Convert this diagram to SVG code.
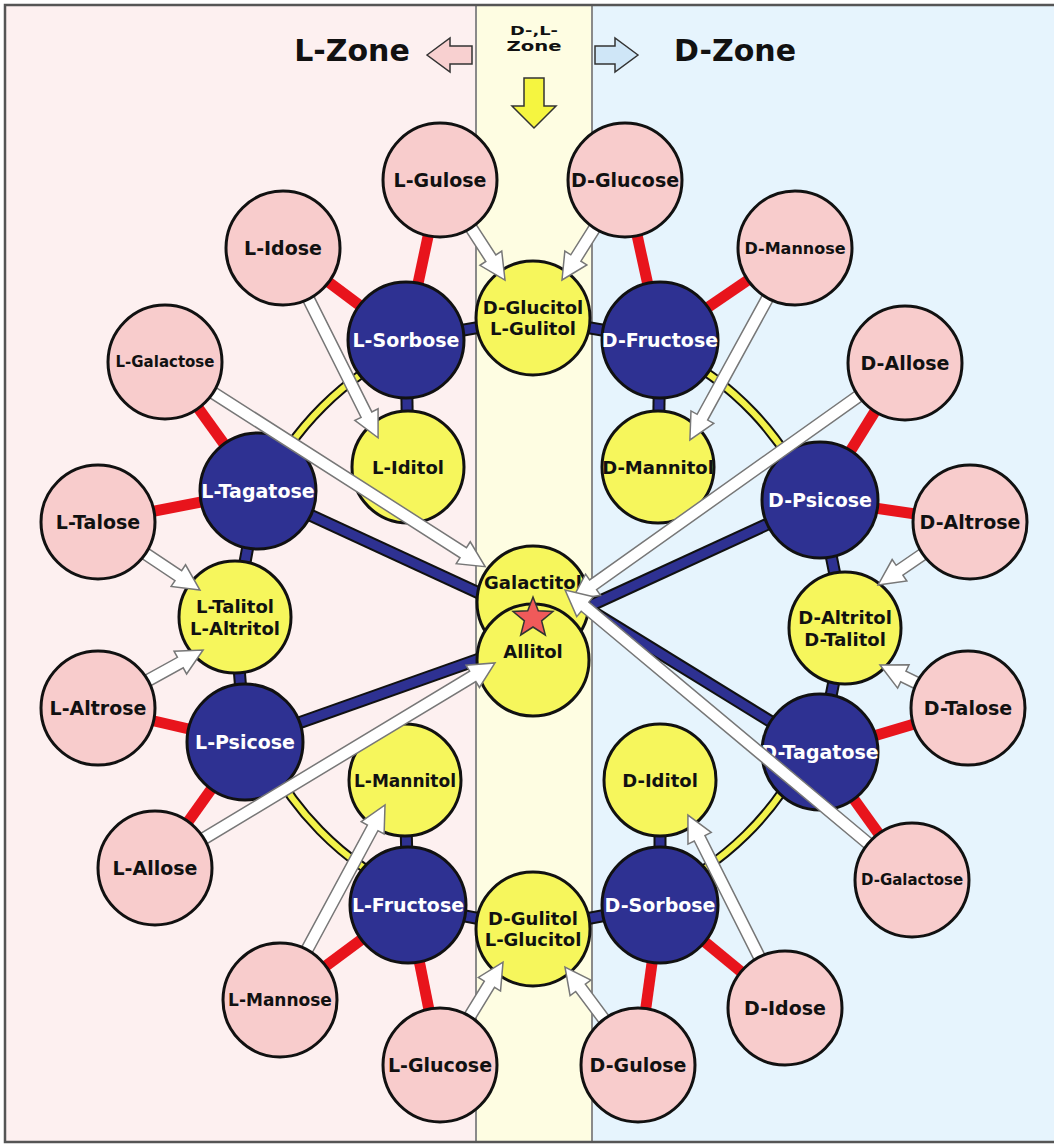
<svg xmlns="http://www.w3.org/2000/svg" width="1054" height="1144" viewBox="0 0 1054 1144">
<style>
.ald{fill:#f8cccc;stroke:#111;stroke-width:3}
.ket{fill:#2e3192;stroke:#111;stroke-width:3}
.alc{fill:#f6f65c;stroke:#111;stroke-width:3}
.t{font-family:"DejaVu Sans",Verdana,sans-serif;font-weight:bold;text-anchor:middle;font-size:18px;fill:#111}
.tw{fill:#fff;font-size:19px}
.tp{font-size:19px}
.red{stroke:#e8141c;stroke-width:11;fill:none}
.bo{stroke:#111;stroke-width:13;fill:none}
.bl{stroke:#2e3192;stroke-width:9;fill:none}
.ro{stroke:#111;stroke-width:10;fill:none}
.ry{stroke:#f2f24a;stroke-width:6;fill:none}
.arr{fill:#fff;stroke:#777;stroke-width:1.5;stroke-linejoin:miter}
.za{stroke:#333;stroke-width:1.5}
</style>
<g id="background">
<rect x="5" y="5" width="471" height="1137" fill="#fdf0f0"/>
<rect x="476" y="5" width="116" height="1137" fill="#fefde2"/>
<rect x="592" y="5" width="470" height="1137" fill="#e6f4fd"/>
<line x1="476" y1="5" x2="476" y2="1142" stroke="#8a8a8a" stroke-width="2"/>
<line x1="592" y1="5" x2="592" y2="1142" stroke="#8a8a8a" stroke-width="2"/>
<rect x="5" y="5" width="1060" height="1137" fill="none" stroke="#555" stroke-width="2.5"/>
</g>
<g id="zone-labels">
<text class="t" x="352" y="61" style="font-size:30px">L-Zone</text>
<text class="t" x="735" y="61" style="font-size:30px">D-Zone</text>
<text class="t" x="534" y="35" style="font-size:13px" textLength="48" lengthAdjust="spacingAndGlyphs">D-,L-</text>
<text class="t" x="534" y="51" style="font-size:14px" textLength="55" lengthAdjust="spacingAndGlyphs">Zone</text>
<polygon class="za" fill="#f8d0d0" points="427,55 450,38 450,46 472,46 472,64 450,64 450,72"/>
<polygon class="za" fill="#cfe6f7" points="638,55 615,38 615,46 595,46 595,64 615,64 615,72"/>
<polygon class="za" fill="#f5f540" points="524,78 544,78 544,106 556,106 534,128 512,106 524,106"/>
</g>
<g id="connectors">
<g id="ring">
<path class="ro" d="M262.2,492.8 A301,301 0 0 1 409.2,346.5"/>
<path class="ry" d="M262.2,492.8 A301,301 0 0 1 409.2,346.5"/>
<path class="ro" d="M666.5,349.2 A301,301 0 0 1 812.5,503.4"/>
<path class="ry" d="M666.5,349.2 A301,301 0 0 1 812.5,503.4"/>
<path class="ro" d="M412.6,895 A301,301 0 0 1 257.5,736.6"/>
<path class="ry" d="M412.6,895 A301,301 0 0 1 257.5,736.6"/>
<path class="ro" d="M808.1,746.5 A301,301 0 0 1 656,895.6"/>
<path class="ry" d="M808.1,746.5 A301,301 0 0 1 656,895.6"/>
</g>
<g id="red-links" class="red">
<line x1="406" y1="340" x2="440" y2="180"/>
<line x1="406" y1="340" x2="283" y2="248"/>
<line x1="660" y1="340" x2="625" y2="180"/>
<line x1="660" y1="340" x2="795" y2="248"/>
<line x1="258" y1="491" x2="165" y2="362"/>
<line x1="258" y1="491" x2="98" y2="522"/>
<line x1="820" y1="500" x2="905" y2="363"/>
<line x1="820" y1="500" x2="970" y2="522"/>
<line x1="245" y1="742" x2="98" y2="708"/>
<line x1="245" y1="742" x2="155" y2="868"/>
<line x1="820" y1="752" x2="968" y2="708"/>
<line x1="820" y1="752" x2="912" y2="880"/>
<line x1="408" y1="905" x2="280" y2="1000"/>
<line x1="408" y1="905" x2="440" y2="1065"/>
<line x1="660" y1="905" x2="785" y2="1008"/>
<line x1="660" y1="905" x2="638" y2="1065"/>
</g>
<g id="blue-links-outline" class="bo">
<path d="M406,340 L533,318 L660,340"/>
<path d="M406,340 L408,467"/>
<path d="M660,340 L658,467"/>
<path d="M258,491 L235,617 L245,742"/>
<path d="M820,500 L845,625 L820,752"/>
<path d="M405,780 L408,905 L533,929 L660,905 L660,780"/>
<path d="M258,491 L533,618"/>
<path d="M245,742 L533,640"/>
<path d="M820,500 L533,632"/>
<path d="M820,752 L533,575"/>
</g>
<g id="blue-links" class="bl">
<path d="M406,340 L533,318 L660,340"/>
<path d="M406,340 L408,467"/>
<path d="M660,340 L658,467"/>
<path d="M258,491 L235,617 L245,742"/>
<path d="M820,500 L845,625 L820,752"/>
<path d="M405,780 L408,905 L533,929 L660,905 L660,780"/>
<path d="M258,491 L533,618"/>
<path d="M245,742 L533,640"/>
<path d="M820,500 L533,632"/>
<path d="M820,752 L533,575"/>
</g>
</g>
<g id="ketoses">
<g id="L-Sorbose"><circle class="ket" cx="406" cy="340" r="58"/><text class="t tw" x="406" y="347">L-Sorbose</text></g>
<g id="D-Fructose"><circle class="ket" cx="660" cy="340" r="58"/><text class="t tw" x="660" y="347">D-Fructose</text></g>
<g id="L-Tagatose"><circle class="ket" cx="258" cy="491" r="58"/><text class="t tw" x="258" y="498">L-Tagatose</text></g>
<g id="D-Psicose"><circle class="ket" cx="820" cy="500" r="58"/><text class="t tw" x="820" y="507">D-Psicose</text></g>
<g id="L-Psicose"><circle class="ket" cx="245" cy="742" r="58"/><text class="t tw" x="245" y="749">L-Psicose</text></g>
<g id="D-Tagatose"><circle class="ket" cx="820" cy="752" r="58"/><text class="t tw" x="820" y="759">D-Tagatose</text></g>
<g id="L-Fructose"><circle class="ket" cx="408" cy="905" r="58"/><text class="t tw" x="408" y="912">L-Fructose</text></g>
<g id="D-Sorbose"><circle class="ket" cx="660" cy="905" r="58"/><text class="t tw" x="660" y="912">D-Sorbose</text></g>
</g>
<g id="alditols">
<g id="D-Glucitol"><circle class="alc" cx="533" cy="318" r="57"/><text class="t" x="533" y="314">D-Glucitol</text><text class="t" x="533" y="335">L-Gulitol</text></g>
<g id="L-Iditol"><circle class="alc" cx="408" cy="467" r="56"/><text class="t" x="408" y="474">L-Iditol</text></g>
<g id="D-Mannitol"><circle class="alc" cx="658" cy="467" r="56"/><text class="t" x="658" y="474">D-Mannitol</text></g>
<g id="L-Talitol"><circle class="alc" cx="235" cy="617" r="56"/><text class="t" x="235" y="613">L-Talitol</text><text class="t" x="235" y="635">L-Altritol</text></g>
<g id="D-Altritol"><circle class="alc" cx="845" cy="628" r="56"/><text class="t" x="845" y="624">D-Altritol</text><text class="t" x="845" y="646">D-Talitol</text></g>
<g id="Galactitol"><circle class="alc" cx="533" cy="602" r="56"/><text class="t" x="533" y="589">Galactitol</text></g>
<g id="Allitol"><circle class="alc" cx="533" cy="660" r="56"/><text class="t" x="533" y="658">Allitol</text></g>
<g id="L-Mannitol"><circle class="alc" cx="405" cy="780" r="56"/><text class="t" x="405" y="787" style="font-size:17px">L-Mannitol</text></g>
<g id="D-Iditol"><circle class="alc" cx="660" cy="780" r="56"/><text class="t" x="660" y="787">D-Iditol</text></g>
<g id="D-Gulitol"><circle class="alc" cx="533" cy="929" r="57"/><text class="t" x="533" y="925">D-Gulitol</text><text class="t" x="533" y="946">L-Glucitol</text></g>
<polygon id="star" fill="#f05a5a" stroke="#333" stroke-width="1.5" points="533,597 538.3,610.7 553,611.5 541.6,620.8 545.3,635 533,627 520.7,635 524.4,620.8 513,611.5 527.7,610.7"/>
</g>
<g id="reduction-arrows" class="arr">
<path transform="translate(462.9,215.2) rotate(57)" d="M0,-6 H51.3 V-13 L77.3,0 L51.3,13 V6 H0 Z"/>
<path transform="translate(602.6,215.5) rotate(122.2)" d="M0,-6 H50.2 V-13 L76.2,0 L50.2,13 V6 H0 Z"/>
<path transform="translate(301.8,285.5) rotate(63.4)" d="M0,-6 H144.4 V-13 L170.4,0 L144.4,13 V6 H0 Z"/>
<path transform="translate(774.8,284.9) rotate(118.7)" d="M0,-6 H150.8 V-13 L176.8,0 L150.8,13 V6 H0 Z"/>
<path transform="translate(200.4,384.6) rotate(32.6)" d="M0,-6 H312 V-13 L338,0 L312,13 V6 H0 Z"/>
<path transform="translate(870.8,387.4) rotate(144.6)" d="M0,-6 H340.7 V-13 L366.7,0 L340.7,13 V6 H0 Z"/>
<path transform="translate(132.9,545.3) rotate(33.7)" d="M0,-6 H54.6 V-13 L80.6,0 L54.6,13 V6 H0 Z"/>
<path transform="translate(935.4,545.7) rotate(145.6)" d="M0,-6 H43.5 V-13 L69.5,0 L43.5,13 V6 H0 Z"/>
<path transform="translate(134.8,687.7) rotate(-28.9)" d="M0,-6 H52 V-13 L78,0 L52,13 V6 H0 Z"/>
<path transform="translate(930.2,689.6) rotate(-153.95)" d="M0,-6 H29.9 V-13 L55.9,0 L29.9,13 V6 H0 Z"/>
<path transform="translate(191,846.3) rotate(-31.1)" d="M0,-6 H329 V-13 L355,0 L329,13 V6 H0 Z"/>
<path transform="translate(879.8,853.1) rotate(-140.1)" d="M0,-6 H384.2 V-13 L410.2,0 L384.2,13 V6 H0 Z"/>
<path transform="translate(299.9,963) rotate(-61.7)" d="M0,-6 H153.5 V-13 L179.5,0 L153.5,13 V6 H0 Z"/>
<path transform="translate(766.1,970.5) rotate(-116.7)" d="M0,-6 H148 V-13 L174,0 L148,13 V6 H0 Z"/>
<path transform="translate(461.9,1029.2) rotate(-58.5)" d="M0,-6 H52.7 V-13 L78.7,0 L52.7,13 V6 H0 Z"/>
<path transform="translate(612.9,1031.3) rotate(-126.7)" d="M0,-6 H54.2 V-13 L80.2,0 L54.2,13 V6 H0 Z"/>
</g>
<g id="aldoses">
<g id="L-Gulose"><circle class="ald" cx="440" cy="180" r="57"/><text class="t tp" x="440" y="187">L-Gulose</text></g>
<g id="D-Glucose"><circle class="ald" cx="625" cy="180" r="57"/><text class="t tp" x="625" y="187">D-Glucose</text></g>
<g id="L-Idose"><circle class="ald" cx="283" cy="248" r="57"/><text class="t tp" x="283" y="255">L-Idose</text></g>
<g id="D-Mannose"><circle class="ald" cx="795" cy="248" r="57"/><text class="t" x="795" y="254" style="font-size:16px">D-Mannose</text></g>
<g id="L-Galactose"><circle class="ald" cx="165" cy="362" r="57"/><text class="t" x="165" y="367" style="font-size:15px">L-Galactose</text></g>
<g id="D-Allose"><circle class="ald" cx="905" cy="363" r="57"/><text class="t tp" x="905" y="370">D-Allose</text></g>
<g id="L-Talose"><circle class="ald" cx="98" cy="522" r="57"/><text class="t tp" x="98" y="529">L-Talose</text></g>
<g id="D-Altrose"><circle class="ald" cx="970" cy="522" r="57"/><text class="t tp" x="970" y="529">D-Altrose</text></g>
<g id="L-Altrose"><circle class="ald" cx="98" cy="708" r="57"/><text class="t tp" x="98" y="715">L-Altrose</text></g>
<g id="D-Talose"><circle class="ald" cx="968" cy="708" r="57"/><text class="t tp" x="968" y="715">D-Talose</text></g>
<g id="L-Allose"><circle class="ald" cx="155" cy="868" r="57"/><text class="t tp" x="155" y="875">L-Allose</text></g>
<g id="D-Galactose"><circle class="ald" cx="912" cy="880" r="57"/><text class="t" x="912" y="885" style="font-size:15px">D-Galactose</text></g>
<g id="L-Mannose"><circle class="ald" cx="280" cy="1000" r="57"/><text class="t" x="280" y="1006" style="font-size:17px">L-Mannose</text></g>
<g id="D-Idose"><circle class="ald" cx="785" cy="1008" r="57"/><text class="t tp" x="785" y="1015">D-Idose</text></g>
<g id="L-Glucose"><circle class="ald" cx="440" cy="1065" r="57"/><text class="t tp" x="440" y="1072">L-Glucose</text></g>
<g id="D-Gulose"><circle class="ald" cx="638" cy="1065" r="57"/><text class="t tp" x="638" y="1072">D-Gulose</text></g>
</g>
</svg>
